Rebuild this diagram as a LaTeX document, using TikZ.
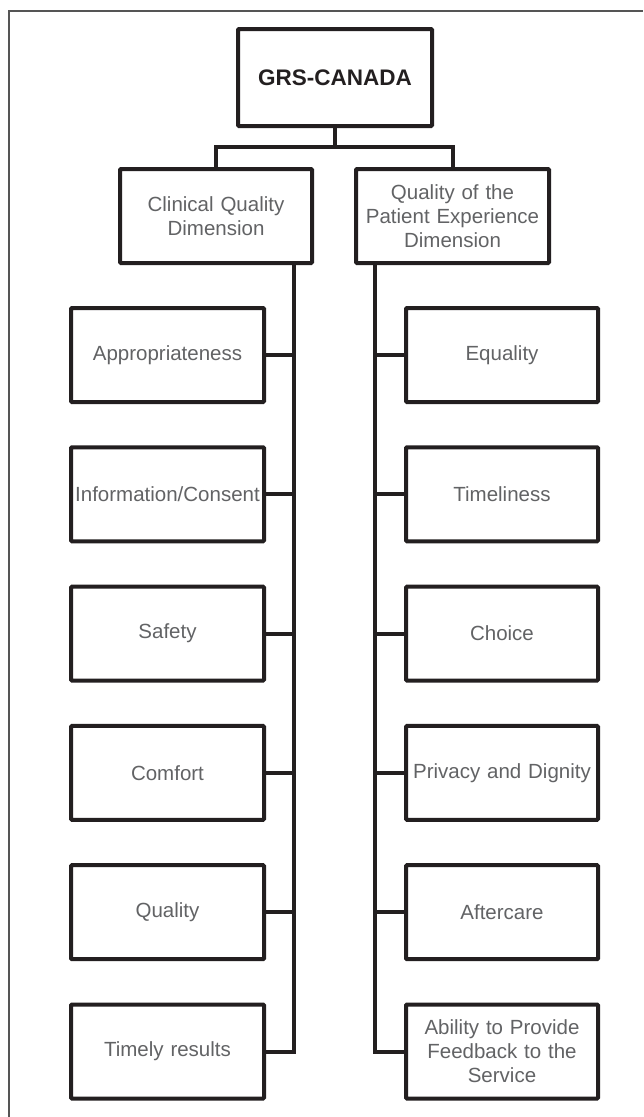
\documentclass[tikz,border=0pt]{standalone}
\usepackage{fontspec}
\setmainfont{Liberation Sans}
\definecolor{lineclr}{HTML}{231F20}
\definecolor{txtclr}{HTML}{626365}
\definecolor{frameclr}{HTML}{555555}
\begin{document}
\begin{tikzpicture}[x=1pt,y=-1pt,
  box/.style={draw=lineclr, line width=4pt, rounded corners=1pt, fill=white,
    align=center, text=txtclr, font=\fontsize{20.5}{24}\selectfont,
    inner sep=0pt, text width=#1},
  box/.default=188pt,
  conn/.style={draw=lineclr, line width=4pt},
]
\useasboundingbox (0,0) rectangle (643,1117);
\draw[frameclr, line width=1.3pt] (9,1117) -- (9,11) -- (643,11);

\node[box, minimum width=194pt, minimum height=97pt, text=lineclr,
  font=\fontsize{22.5}{26}\selectfont\bfseries] (grs) at (335,77.5) {GRS-CANADA};
\node[box, minimum width=192pt, minimum height=94pt] (clin) at (216,216) {Clinical Quality\\Dimension};
\node[box, minimum width=193pt, minimum height=94pt] (pat) at (452.5,216) {Quality of the\\Patient Experience\\Dimension};

\node[box=193pt, minimum width=193pt, minimum height=94pt] (l1) at (167.5,355) {Appropriateness};
\node[box=193pt, minimum width=193pt, minimum height=94pt] (l2) at (167.5,494.3) {Information/Consent};
\node[box, minimum width=193pt, minimum height=94pt] (l3) at (167.5,633.6) {Safety};
\node[box, minimum width=193pt, minimum height=94pt] (l4) at (167.5,772.9) {Comfort};
\node[box, minimum width=193pt, minimum height=94pt] (l5) at (167.5,912.2) {Quality};
\node[box, minimum width=193pt, minimum height=94pt] (l6) at (167.5,1051.5) {Timely results};

\node[box, minimum width=192pt, minimum height=94pt] (r1) at (502,355) {Equality};
\node[box, minimum width=192pt, minimum height=94pt] (r2) at (502,494.3) {Timeliness};
\node[box, minimum width=192pt, minimum height=94pt] (r3) at (502,633.6) {Choice};
\node[box=192pt, minimum width=192pt, minimum height=94pt] (r4) at (502,772.9) {Privacy and Dignity};
\node[box, minimum width=192pt, minimum height=94pt] (r5) at (502,912.2) {Aftercare};
\node[box, minimum width=192pt, minimum height=94pt] (r6) at (502,1051.5) {Ability to Provide\\Feedback to the\\Service};

\coordinate (j) at (335,147);
\coordinate (ltx) at (294,0);
\coordinate (rtx) at (375,0);

\draw[conn] (grs.south) -- (j);
\draw[conn] (clin.north) |- (j) -| (pat.north);

\draw[conn] (clin.south -| ltx) |- (l6.east);
\foreach \n in {l1,l2,l3,l4,l5} \draw[conn] (\n.east) -- (\n.east -| ltx);
\draw[conn] (pat.south -| rtx) |- (r6.west);
\foreach \n in {r1,r2,r3,r4,r5} \draw[conn] (\n.west) -- (\n.west -| rtx);
\end{tikzpicture}
\end{document}
